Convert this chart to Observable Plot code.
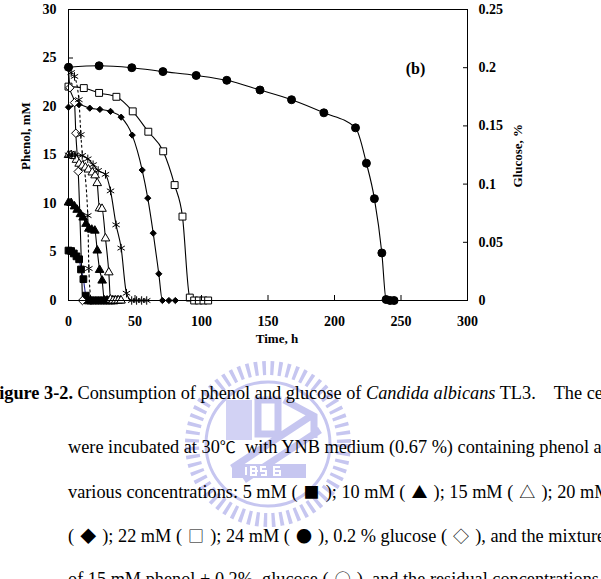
<!DOCTYPE html>
<html><head><meta charset="utf-8">
<script src="https://cdn.jsdelivr.net/npm/d3@7"></script>
<script src="https://cdn.jsdelivr.net/npm/@observablehq/plot@0.6"></script>
<style>
body{margin:0;background:#fff;width:601px;height:579px;overflow:hidden;position:relative;font-family:"Liberation Serif","Times New Roman",serif;}
#chart{position:absolute;left:0;top:0;}
#wm{position:absolute;left:0;top:0;}
.cap{position:absolute;white-space:nowrap;font-size:18.3px;color:#000;line-height:20px;}
.sym{font-family:"Noto Sans CJK TC","Noto Sans CJK SC",sans-serif;font-size:16px;margin:0 1.5px;}
.deg{font-family:"Noto Sans CJK TC","Noto Sans CJK SC",sans-serif;font-size:16px;}
</style></head><body>
<svg id="wm" width="601" height="579">
  <g transform="translate(268,444)" fill="none" stroke="#c6c6f0">
    <circle r="76" stroke-width="14" stroke-dasharray="3.5 4.5"/>
    <circle r="62" stroke-width="3"/>
    <rect x="-42" y="-44" width="26" height="40" fill="#d2d2f4" stroke="none"/>
    <path d="M-10,-44 h20 v34 h-20 z M16,-44 l30,16 v22 M-36,24 L46,-30 M-24,36 L52,-14" stroke-width="7"/>
    <rect x="-36" y="20" width="74" height="14" fill="#c6c6f0" stroke="none"/>
    <path d="M-22,23 v8 M-12,23 h-5 v8 h5 v-8 M-10,27 h-7 M-2,23 h-5 v4 h5 v4 h-5 M12,23 h-6 v8 h6 v-4 h-6" stroke="#fff" stroke-width="2"/>
  </g>
</svg>
<div id="chart"></div>
<div class="cap" style="left:-12px;top:383px"><b>Figure 3-2.</b> Consumption of phenol and glucose of <i>Candida albicans</i> TL3.&nbsp;&nbsp;&nbsp; The cells</div>
<div class="cap" style="left:68px;top:436px">were incubated at 30<span class="deg">℃</span>&nbsp; with YNB medium (0.67 %) containing phenol at</div>
<div class="cap" style="left:68px;top:481px">various concentrations: 5 mM ( <span class="sym">■</span> ); 10 mM ( <span class="sym">▲</span> ); 15 mM ( <span class="sym">△</span> ); 20 mM</div>
<div class="cap" style="left:68px;top:525px">( <span class="sym">◆</span> ); 22 mM ( <span class="sym">□</span> ); 24 mM ( <span class="sym">●</span> ), 0.2 % glucose ( <span class="sym">◇</span> ), and the mixture</div>
<div class="cap" style="left:68px;top:568px">of 15 mM phenol + 0.2%&nbsp; glucose ( <span class="sym">○</span> ), and the residual concentrations</div>
<script>
// Axis ticks
const xTicks = [0, 50, 100, 150, 200, 250, 300];
const yTicks = [0, 5, 10, 15, 20, 25, 30];
const glucoseTicks = [0, 0.05, 0.1, 0.15, 0.2, 0.25];
const glucoseFactor = 120; // 0.25 % glucose on the right axis sits at 30 mM on the left axis

// 5 mM phenol (filled square)
const t5 = [0, 2, 4, 6, 8, 9.4, 11.2, 13, 14.5, 16.5, 18.5, 20.5, 22.5, 24.5, 26.5, 28.5, 30.5, 32.5, 34.5];
const p5 = [5.15, 5.1, 4.85, 4.55, 4.25, 3.2, 2.2, 0.5, 0, 0, 0, 0, 0, 0, 0, 0, 0, 0, 0];
// 10 mM phenol (filled triangle)
const t10 = [0, 2, 4.5, 6.5, 9, 11, 13.2, 15.3, 17.5, 19.8, 21.6, 23.4, 25.3, 27, 29, 31, 33, 35, 37, 39];
const p10 = [10.1, 10.05, 9.7, 9.35, 8.9, 8.55, 7.9, 7.4, 7.3, 7.2, 5.15, 3.15, 2.05, 0, 0, 0, 0, 0, 0, 0];
// 15 mM phenol (open triangle)
const t15 = [0, 2, 4, 6, 8, 10.5, 12.7, 15, 17.9, 20, 21.6, 23.3, 25.2, 27.8, 30.3, 31.6, 33.5, 35.5, 37.5, 39.5];
const p15 = [15, 15, 14.9, 14.5, 14.1, 13.9, 13.7, 13.5, 13.2, 12.9, 12.1, 9.5, 9.45, 6.4, 2.9, 0.1, 0, 0, 0, 0];
// 20 mM phenol (filled diamond)
const t20 = [0, 7.8, 16, 23.6, 31.6, 39.6, 47.9, 55.4, 59.6, 63.7, 67.9, 70.6, 75.5, 80.3];
const p20 = [19.93, 20.2, 19.83, 19.7, 19.5, 18.9, 17.05, 13.45, 10.55, 6.94, 2.75, 0, 0, 0];
// 22 mM phenol (open square)
const t22 = [0, 11.5, 23, 36, 48.3, 60, 71.2, 79.8, 85.7, 91.2, 94.5, 98, 101.5, 105];
const p22 = [22.05, 21.9, 21.4, 21.0, 19.5, 17.4, 15.38, 11.9, 8.65, 0.3, 0, 0, 0, 0];
// 24 mM phenol (filled circle)
const t24 = [0, 23, 47.6, 71, 96, 119, 144, 167.7, 192, 215.8, 224, 230, 235.6, 238.8, 241.8, 244.8];
const p24 = [24.05, 24.2, 24.0, 23.6, 23.2, 22.7, 21.7, 20.7, 19.35, 17.8, 14.15, 10.5, 4.9, 0.1, 0, 0];
// 0.2 % glucose alone (open diamond), plotted on the phenol scale
const tGlc = [0, 1, 4.5, 5.5, 7.3, 10.5];
const gGlc = [0.2, 0.1827, 0.17, 0.1437, 0.1108, 0];
// Mixture 15 mM phenol + 0.2 % glucose: phenol (asterisk, solid)
const tMixP = [0, 2.5, 5, 10.3, 14.5, 18.5, 22.3, 27.8, 31.6, 35.8, 39.6, 43.6, 47.5, 51.2, 55, 58.8];
const pMixP = [15, 15, 15, 14.95, 14.6, 14.0, 13.4, 13.0, 11.3, 7.8, 5.4, 0.75, 0, 0, 0, 0];
// Mixture: glucose (asterisk, dotted)
const tMixG = [0, 2, 4.5, 7.8, 9.3, 14.5, 15.3, 17];
const gMixG = [0.2, 0.1958, 0.1925, 0.1725, 0.1425, 0.073, 0.0275, 0];

const mk = (t, v, k = 1) => t.map((d, i) => ({t: d, v: v[i] * k}));
const series = [
  {data: mk(t5, p5), symbol: "square", fill: "#000", stroke: "#000", line: "#26268f", r: 3.8, dash: null},
  {data: mk(t10, p10), symbol: "triangle", fill: "#000", stroke: "#000", line: "#000", r: 3.2, dash: null},
  {data: mk(t15, p15), symbol: "triangle", fill: "#fff", stroke: "#000", line: "#000", r: 3.2, dash: null},
  {data: mk(t20, p20), symbol: "diamond2", fill: "#000", stroke: "#000", line: "#000", r: 2.8, dash: null},
  {data: mk(t22, p22), symbol: "square", fill: "#fff", stroke: "#000", line: "#000", r: 3.9, dash: null},
  {data: mk(tGlc, gGlc, glucoseFactor), symbol: "diamond2", fill: "#fff", stroke: "#000", line: "#000", r: 3.8, dash: null},
  {data: mk(tMixG, gMixG, glucoseFactor), symbol: "asterisk", fill: "none", stroke: "#000", line: "#000", r: 4, dash: "2,3"},
  {data: mk(tMixP, pMixP), symbol: "asterisk", fill: "none", stroke: "#000", line: "#000", r: 4, dash: null},
  {data: mk(t24, p24), symbol: "circle", fill: "#000", stroke: "#000", line: "#000", r: 4, dash: null}
];

const marks = [];
for (const s of series) {
  marks.push(Plot.line(s.data, {x: "t", y: "v", stroke: s.line, strokeWidth: 1.1, curve: "monotone-x", strokeDasharray: s.dash}));
}
for (const s of series) {
  marks.push(Plot.dot(s.data, {x: "t", y: "v", symbol: () => s.symbol, r: s.r, fill: s.fill, stroke: s.stroke, strokeWidth: 1}));
}

const chart = Plot.plot({
  width: 601, height: 350,
  marginLeft: 68, marginRight: 134, marginTop: 9, marginBottom: 50,
  style: {fontFamily: "'Liberation Serif', 'Times New Roman', serif", fontWeight: "bold", fontSize: "14px", color: "#000", background: "transparent"},
  x: {domain: [0, 300]},
  y: {domain: [0, 30]},
  symbol: {type: "identity"},
  marks: [
    ...marks,
    Plot.frame({stroke: "#000", strokeWidth: 1}),
    Plot.axisX({ticks: xTicks, tickSize: -5, tickPadding: 21, label: null, fontSize: 14, fontWeight: "bold", stroke: "#000"}),
    Plot.axisY({ticks: yTicks, tickSize: -5, tickPadding: 17, label: null, fontSize: 14, fontWeight: "bold"}),
    Plot.axisY({anchor: "right", ticks: glucoseTicks.map(g => g * glucoseFactor), tickFormat: d => String(+(d / glucoseFactor).toFixed(2)), tickSize: -5, tickPadding: 16, label: null, fontSize: 14, fontWeight: "bold"}),
    Plot.text(["Time, h"], {frameAnchor: "bottom", dx: 9, dy: 38, lineAnchor: "middle", fontSize: 13, fontWeight: "bold"}),
    Plot.text(["Phenol, mM"], {frameAnchor: "left", dx: -43, dy: 15, rotate: -90, lineAnchor: "middle", fontSize: 13, fontWeight: "bold"}),
    Plot.text(["Glucose, %"], {frameAnchor: "right", dx: 50, dy: -31, rotate: -90, lineAnchor: "middle", fontSize: 13, fontWeight: "bold"}),
    Plot.text(["(b)"], {frameAnchor: "top-right", dx: -52, dy: 59, textAnchor: "middle", lineAnchor: "middle", fontSize: 16, fontWeight: "bold"})
  ]
});
document.getElementById("chart").appendChild(chart);
</script>
</body></html>
